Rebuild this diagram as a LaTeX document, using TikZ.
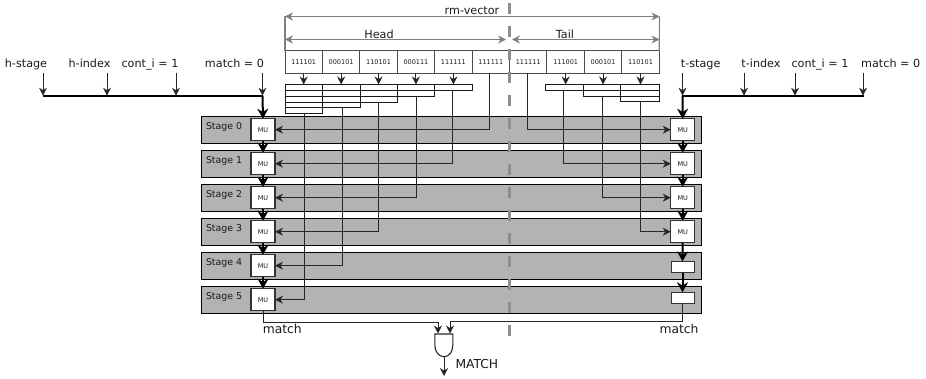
\documentclass[tikz,border=0pt]{standalone}
\usepackage{fontspec}
\setmainfont{DejaVu Sans}
\usetikzlibrary{arrows.meta,calc}
\definecolor{barfill}{HTML}{B3B3B3}
\definecolor{dimgray}{HTML}{808080}
\definecolor{divgray}{HTML}{8E8E8E}
\definecolor{inktext}{HTML}{1A1A1A}
\tikzset{
  every node/.style={inner sep=0pt,outer sep=0pt,text=inktext},
  lab/.style={font=\fontsize{11.2}{13}\selectfont,anchor=base},
  biglab/.style={font=\fontsize{12.3}{14}\selectfont,anchor=base},
  stagebar/.style={draw=black,fill=barfill,line width=1pt,minimum width=500pt,minimum height=27pt},
  stagelab/.style={font=\fontsize{9.4}{11}\selectfont,anchor=west},
  mubox/.style={draw=black!80,fill=white,line width=1.1pt,minimum width=24pt,minimum height=22pt,font=\fontsize{6.5}{7}\selectfont},
  blank/.style={draw=black!80,fill=white,line width=1pt,minimum width=23pt,minimum height=11.5pt},
  cell/.style={draw=black!70,line width=0.9pt,minimum width=37.42pt,minimum height=22.5pt,font=\fontsize{6.5}{7}\selectfont},
  brk/.style={draw=black!90,line width=1pt,anchor=north west},
  wire/.style={draw=black!85,line width=1pt},
  arr/.style={wire,-{Stealth[length=8pt,width=8pt]}},
  busline/.style={draw=black,line width=2.2pt},
  thick arr/.style={draw=black,line width=2pt,-{Stealth[length=10pt,width=11pt]}},
  dim/.style={draw=dimgray,line width=1.1pt,{Stealth[length=8pt,width=8pt]}-{Stealth[length=8pt,width=8pt]}},
  tick/.style={draw=dimgray,line width=1.1pt},
  divider/.style={draw=divgray,line width=2.6pt,dash pattern=on 11pt off 12pt},
}
\begin{document}
\begin{tikzpicture}[x=1pt,y=-1pt]
\useasboundingbox (0,0) rectangle (926,379);
% stages
\foreach \i in {0,...,5}{
  \node[stagebar] (bar\i) at (451,130+34*\i) {};
  \node[stagelab] (slab\i) at (206,127+34*\i) {Stage \i};
  \node[mubox] (hmu\i) at (263,129.7+34*\i) {MU};
}
\foreach \i in {0,...,3}{
  \node[mubox] (tmu\i) at (682.7,129.7+34*\i) {MU};
}
\node[blank] (tmu4) at (682.5,267.2) {};
\node[blank] (tmu5) at (682.5,298) {};
% vector cells
\foreach \i/\t in {1/111101,2/000101,3/110101,4/000111,5/111111,6/111111,7/111111,8/111001,9/000101,10/110101}{
  \node[cell] (c\i) at ({285+37.42*(\i-0.5)},62) {\t};
}
% dimension lines
\coordinate (vL) at (285,16.5);
\coordinate (vR) at (659.5,16.5);
\coordinate (hR) at (506,39.5);
\coordinate (tL) at (512,39.5);
\draw[tick] (c1.north west) -- (vL);
\draw[tick] (c10.north east) -- (vR);
\draw[dim] (vL) -- (vR);
\draw[dim] (vL |- hR) -- (hR);
\draw[dim] (tL) -- (vR |- tL);
\node[lab] (rmv) at (472,15) {rm-vector};
\node[lab] (headlab) at (379,38.5) {Head};
\node[lab] (taillab) at (565,38.5) {Tail};
% brackets head
\node[brk,minimum width=187pt,minimum height=6pt] (b1) at (285,84.5) {};
\node[brk,minimum width=149.7pt,minimum height=12pt] (b2) at (285,84.5) {};
\node[brk,minimum width=112.3pt,minimum height=18pt] (b3) at (285,84.5) {};
\node[brk,minimum width=75pt,minimum height=23.5pt] (b4) at (285,84.5) {};
\node[brk,minimum width=37.4pt,minimum height=29pt] (b5) at (285,84.5) {};
% brackets tail
\node[brk,minimum width=113.6pt,minimum height=6pt] (t1) at (545.7,84.5) {};
\node[brk,minimum width=76.3pt,minimum height=11.7pt] (t2) at (583,84.5) {};
\node[brk,minimum width=38.6pt,minimum height=17.4pt] (t3) at (620.7,84.5) {};
% cell arrows
\foreach \i/\b in {1/b1,2/b1,3/b1,4/b1,5/b1}{
  \draw[arr] (c\i.south) -- (c\i.south |- \b.north);
}
\foreach \i in {8,9,10}{
  \draw[arr] (c\i.south) -- (c\i.south |- t1.north);
}
% head wires
\coordinate (x0) at (489.3,73);
\draw[arr] (x0) |- (hmu0.east);
\coordinate (x1) at (452.5,90.5);
\draw[arr] (x1) |- (hmu1.east);
\coordinate (x2) at (416.6,96.5);
\draw[arr] (x2) |- (hmu2.east);
\coordinate (x3) at (378.3,102.5);
\draw[arr] (x3) |- (hmu3.east);
\coordinate (x4) at (342.4,108);
\draw[arr] (x4) |- (hmu4.east);
\coordinate (x5) at (304.4,113.5);
\draw[arr] (x5) |- (hmu5.east);
% tail wires
\coordinate (y0) at (527.7,73);
\draw[arr] (y0) |- (tmu0.west);
\coordinate (y1) at (563.3,90.5);
\draw[arr] (y1) |- (tmu1.west);
\coordinate (y2) at (602.3,96.2);
\draw[arr] (y2) |- (tmu2.west);
\coordinate (y3) at (640.4,101.9);
\draw[arr] (y3) |- (tmu3.west);
% input buses
\foreach \n/\x/\tx/\t in {a/43/26/h-stage,b/107/89.5/h-index,c/176/150/cont\_i = 1,d/262.5/234.5/match = 0}{
  \node[lab] (hl\n) at (\tx,68) {\t};
  \coordinate (hs\n) at (\x,73);
  \coordinate (hb\n) at (\x,95.7);
  \draw[arr] (hs\n) -- (hb\n);
}
\foreach \n/\x/\tx/\t in {a/682.5/700.7/t-stage,b/744/761/t-index,c/795/820/cont\_i = 1,d/863/890.7/match = 0}{
  \node[lab] (tl\n) at (\tx,68) {\t};
  \coordinate (ts\n) at (\x,73);
  \coordinate (tb\n) at (\x,95.7);
  \draw[arr] (ts\n) -- (tb\n);
}
\draw[busline] ([xshift=-0.5pt]hba) -- (hbd);
\draw[busline] ([xshift=-0.8pt]tba) -- ([xshift=0.5pt]tbd);
% thick flows
\draw[thick arr] (hbd) -- (hmu0.north);
\draw[thick arr] (tba) -- (tmu0.north);
\foreach \a/\b in {0/1,1/2,2/3,3/4,4/5}{
  \draw[thick arr] (hmu\a.south) -- (hmu\b.north);
  \draw[thick arr] (tmu\a.south) -- (tmu\b.north);
}
% match gate
\coordinate (g1) at (438,333.5);
\coordinate (g2) at (450,333.5);
\coordinate (gout) at (444,356.7);
\coordinate (gend) at (444,376);
\draw[arr] (hmu5.south) |- (438,322.7) -- (g1);
\draw[arr] (tmu5.south) |- (450,321.7) -- (g2);
\draw[wire,line width=1.1pt] (434.8,334) -- (452.8,334) -- (452.8,345) .. controls (452.8,352) and (449,356.7) .. (gout) .. controls (439,356.7) and (434.8,352) .. (434.8,345) -- cycle;
\draw[arr] (gout) -- (gend);
\node[biglab] (ml) at (282.3,334) {match};
\node[biglab] (mr) at (679,334) {match};
\node[biglab,anchor=base west] (mm) at (455.5,368) {MATCH};
% divider
\coordinate (d0) at (509.7,3);
\coordinate (d1) at (509.7,346);
\draw[divider] (d0) -- (d1);
\end{tikzpicture}
\end{document}
